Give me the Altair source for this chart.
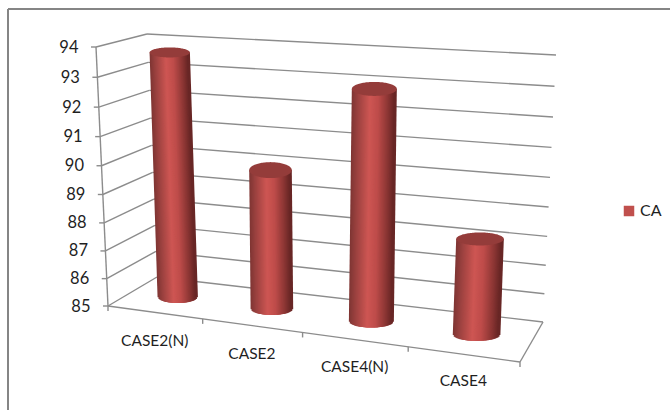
import math
import altair as alt
import pandas as pd

# Series
categories = ["CASE2(N)", "CASE2", "CASE4(N)", "CASE4"]
ca_values = [93.7, 89.95, 92.95, 88.3]
value_ticks = [85, 86, 87, 88, 89, 90, 91, 92, 93, 94]
series_name = "CA"

W, H = 670, 410
V_MIN, V_MAX = value_ticks[0], value_ticks[-1]

# Screen corners of the 3D box: floor and ceiling, front and back
FLOOR = {"fl": (108, 306), "fr": (520, 362), "bl": (157, 277), "br": (543, 322)}
ROOF = {"fl": (96, 47), "fr": (533, 79), "bl": (147, 34), "br": (556, 55)}
U_PERSPECTIVE = 0.895
V_PERSPECTIVE = 0.945

GRID = "#8c8c8c"
FRAME = "#858585"
TEXT = "#1f1f1f"
LEGEND_RED = "#c0504d"
CAP_RED = "#943c3a"
RADIUS_SHARE = 0.22
TOP_RY = [5.0, 8.0, 7.0, 6.5]
BOTTOM_RY = 5.8
DEPTH = 0.5
STROKE = 3.0


def warp(t, w):
    """Perspective foreshortening of a 0..1 coordinate."""
    if t <= 0:
        return 0.0
    if t >= 1:
        return 1.0
    odds = t / (1 - t) * w
    return odds / (1 + odds)


def mix(a, b, t):
    return (a[0] + (b[0] - a[0]) * t, a[1] + (b[1] - a[1]) * t)


def project(u, d, value):
    """Category position u (0..1), depth d (0 front, 1 back), value -> screen."""
    su = warp(u, U_PERSPECTIVE)
    sv = warp((value - V_MIN) / (V_MAX - V_MIN), V_PERSPECTIVE)
    low = mix(mix(FLOOR["fl"], FLOOR["fr"], su), mix(FLOOR["bl"], FLOOR["br"], su), d)
    high = mix(mix(ROOF["fl"], ROOF["fr"], su), mix(ROOF["bl"], ROOF["br"], su), d)
    return mix(low, high, sv)


def segment(a, b):
    return {"x": a[0], "y": a[1], "x2": b[0], "y2": b[1]}


# Walls, floor outline and tick marks
grid_rows = []
for v in value_ticks:
    grid_rows.append(segment(project(0, 0, v), project(0, 1, v)))
    grid_rows.append(segment(project(0, 1, v), project(1, 1, v)))
    front = project(0, 0, v)
    grid_rows.append(segment((front[0] - 5, front[1]), front))
grid_rows.append(segment(project(0, 0, V_MIN), project(0, 0, V_MAX)))
grid_rows.append(segment(project(0, 0, V_MIN), project(1, 0, V_MIN)))
grid_rows.append(segment(project(1, 0, V_MIN), project(1, 1, V_MIN)))
for k in range(len(categories) + 1):
    p = project(k / len(categories), 0, V_MIN)
    grid_rows.append(segment(p, (p[0], p[1] + 5)))
grid = pd.DataFrame(grid_rows)

frame = pd.DataFrame([segment((8, 9), (W, 9)), segment((8, 9), (8, H))])


def shade(f):
    """Red of the cylinder surface at fraction f across its width."""
    stops = [(0.0, (128, 54, 52)), (0.12, (152, 64, 62)), (0.42, (206, 86, 83)),
             (0.62, (190, 76, 74)), (0.85, (140, 54, 52)), (1.0, (104, 38, 37))]
    for (f0, c0), (f1, c1) in zip(stops, stops[1:]):
        if f <= f1:
            t = (f - f0) / (f1 - f0)
            return "#%02x%02x%02x" % tuple(round(a + (b - a) * t) for a, b in zip(c0, c1))
    return "#682625"


# Cylinders as overlapping slanted strokes painted left to right, with an elliptical cap
body_rows, cap_rows = [], []
n = len(categories)
for k, (cat, val) in enumerate(zip(categories, ca_values)):
    u = (k + 0.5) / n
    left = project(k / n, DEPTH, V_MIN)[0]
    right = project((k + 1) / n, DEPTH, V_MIN)[0]
    rx = (right - left) * RADIUS_SHARE
    base = project(u, DEPTH, V_MIN)
    top = project(u, DEPTH, val)
    inner = rx - STROKE / 2
    columns = int(rx * 2)
    for i in range(columns + 1):
        f = i / columns
        c = 2 * f - 1
        arc = math.sqrt(max(0.0, 1 - c * c))
        body_rows.append({
            "cat": cat,
            "x": top[0] + c * inner, "y": top[1],
            "x2": base[0] + c * inner, "y2": base[1] + BOTTOM_RY * arc,
            "shade": shade(f),
        })
    for i in range(61):
        theta = math.pi * i / 60
        half = TOP_RY[k] * math.sin(theta)
        cap_rows.append({
            "cat": cat,
            "x": top[0] + rx * math.cos(theta),
            "y": top[1] - half, "y2": top[1] + half,
        })
body = pd.DataFrame(body_rows)
caps = pd.DataFrame(cap_rows)

# Value and category labels beside the box
value_labels = pd.DataFrame([
    {"x": project(0, 0, v)[0] - 17.5, "y": project(0, 0, v)[1] + 0.5, "label": str(v)}
    for v in value_ticks
])
category_rows = []
for k, cat in enumerate(categories):
    u = (k + 0.5) / n
    p = project(u, 0, V_MIN)
    category_rows.append({"x": p[0], "y": p[1] + 29 - 3 * warp(u, U_PERSPECTIVE), "label": cat})
category_labels = pd.DataFrame(category_rows)

xs = alt.Scale(domain=[0, W], range=[0, W])
ys = alt.Scale(domain=[0, H], range=[0, H])
X = alt.X("x:Q", scale=xs, axis=None)
Y = alt.Y("y:Q", scale=ys, axis=None)

frame_layer = alt.Chart(frame).mark_rule(color=FRAME, strokeWidth=2).encode(
    x=X, y=Y, x2="x2:Q", y2="y2:Q")
grid_layer = alt.Chart(grid).mark_rule(color=GRID, strokeWidth=1.4).encode(
    x=X, y=Y, x2="x2:Q", y2="y2:Q")
body_layer = alt.Chart(body).mark_rule(strokeWidth=STROKE).encode(
    x=X, y=Y, x2="x2:Q", y2="y2:Q", color=alt.Color("shade:N", scale=None))
cap_layer = alt.Chart(caps).mark_area(color=CAP_RED).encode(
    x=X, y=Y, y2="y2:Q", detail="cat:N")
value_layer = alt.Chart(value_labels).mark_text(
    font="Lato", fontSize=16.5, align="right", baseline="middle", color=TEXT
).encode(x=X, y=Y, text="label:N")
category_layer = alt.Chart(category_labels).mark_text(
    font="Lato", fontSize=15.5, align="center", baseline="middle", color=TEXT
).encode(x=X, y=Y, text="label:N")
legend_layer = alt.Chart(pd.DataFrame({"series": [series_name], "x": [0], "y": [0]})).mark_square(
    size=0
).encode(
    x=X, y=Y,
    color=alt.Color(
        "series:N",
        scale=alt.Scale(domain=[series_name], range=[LEGEND_RED]),
        legend=alt.Legend(
            orient="none", legendX=621, legendY=203, title=None,
            symbolType="square", symbolSize=110, symbolOpacity=1,
            symbolFillColor=LEGEND_RED, symbolStrokeWidth=0,
            labelFont="Lato", labelFontSize=16, labelColor=TEXT, labelOffset=3,
        ),
    ),
)

chart = (
    alt.layer(frame_layer, grid_layer, body_layer, cap_layer,
              value_layer, category_layer, legend_layer)
    .resolve_scale(color="independent")
    .properties(width=W, height=H, padding=0, autosize="none", background="white")
    .configure_view(stroke=None)
)

chart.save("out.html", embed_options={"renderer": "svg", "actions": False})
